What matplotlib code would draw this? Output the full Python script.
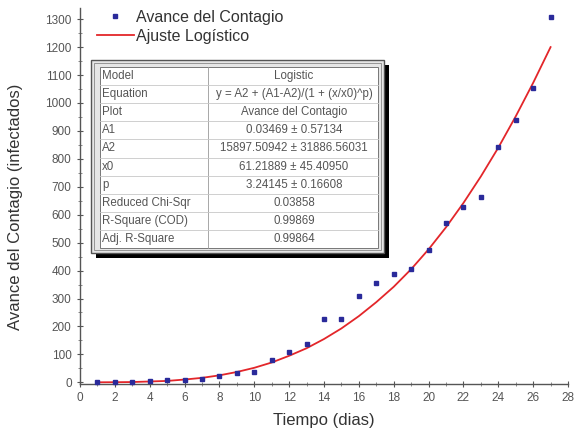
import matplotlib
matplotlib.use("Agg")
import matplotlib.pyplot as plt
from matplotlib.patches import Rectangle
from matplotlib.ticker import MultipleLocator

plt.rcParams['font.family'] = ['Liberation Sans', 'DejaVu Sans']

# Data
days = list(range(1, 28))
cases = [1, 1, 2, 6, 7, 9, 11, 22, 35, 38, 81, 109, 138, 226, 226, 309, 357,
         387, 407, 472, 571, 626, 662, 842, 940, 1053, 1308]
fit_vals = [0.1, 0.4, 1, 3, 5, 10, 16, 25, 37, 52, 71, 95, 122, 155, 193, 237,
            287, 342, 405, 476, 555, 642, 737, 840, 952, 1072, 1200]

table_rows = [
    ("Model", "Logistic"),
    ("Equation", "y = A2 + (A1-A2)/(1 + (x/x0)^p)"),
    ("Plot", "Avance del Contagio"),
    ("A1", "0.03469 \u00b1 0.57134"),
    ("A2", "15897.50942 \u00b1 31886.56031"),
    ("x0", "61.21889 \u00b1 45.40950"),
    ("p", "3.24145 \u00b1 0.16608"),
    ("Reduced Chi-Sqr", "0.03858"),
    ("R-Square (COD)", "0.99869"),
    ("Adj. R-Square", "0.99864"),
]

W, H = 587, 441
fig = plt.figure(figsize=(W / 100, H / 100), dpi=100)

def fx(px):
    return px / W

def fy(py):
    return 1 - py / H

ax = fig.add_axes([fx(80), fy(384), fx(568) - fx(80), fy(8) - fy(384)])
ax.set_xlim(0, 28)
ax.set_ylim(-6, 1340)
for s in ("top", "right"):
    ax.spines[s].set_visible(False)
for s in ("left", "bottom"):
    ax.spines[s].set_color("#555555")
    ax.spines[s].set_linewidth(1.0)

ax.xaxis.set_major_locator(MultipleLocator(2))
ax.xaxis.set_minor_locator(MultipleLocator(1))
ax.yaxis.set_major_locator(MultipleLocator(100))
ax.yaxis.set_minor_locator(MultipleLocator(50))
ax.tick_params(which="major", direction="inout", length=5, width=0.8,
               color="#555555", labelsize=8.5, labelcolor="#555555")
ax.tick_params(which="minor", direction="inout", length=3, width=0.6,
               color="#777777")
ax.set_yticks(range(0, 1301, 100))

ax.plot(days, fit_vals, color="#e3262a", lw=1.3, label="Ajuste Log\u00edstico",
        zorder=2)
ax.plot(days, cases, linestyle="none", marker="s", ms=3.0, color="#2a2a9a",
        label="Avance del Contagio", zorder=3, clip_on=False)

ax.set_xlabel("Tiempo (dias)", fontsize=12, color="#333333", labelpad=6)
ax.set_ylabel("Avance del Contagio (infectados)", fontsize=12,
              color="#333333")
ax.yaxis.set_label_coords(-0.116, 0.47)

h, l = ax.get_legend_handles_labels()
leg = ax.legend([h[1], h[0]], [l[1], l[0]], loc="upper left",
                bbox_to_anchor=(fx(97), fy(10)), bbox_transform=fig.transFigure,
                frameon=False, fontsize=11.5, handlelength=2.3,
                handletextpad=0.15, labelspacing=0.22, borderpad=0,
                borderaxespad=0)
for t in leg.get_texts():
    t.set_color("#333333")

# Fit results table drawn as an inset box
tab = fig.add_axes([0, 0, 1, 1])
tab.set_xlim(0, W)
tab.set_ylim(H, 0)
tab.axis("off")
x0b, y0b, x1b, y1b = 91, 60, 384, 253
tab.add_patch(Rectangle((x0b + 5, y0b + 5), x1b - x0b, y1b - y0b,
                        facecolor="black", edgecolor="none", zorder=1))
tab.add_patch(Rectangle((x0b, y0b), x1b - x0b, y1b - y0b,
                        facecolor="#e6e6e6", edgecolor="#555555", lw=1.0,
                        zorder=2))
tab.add_patch(Rectangle((x0b + 3, y0b + 3), x1b - x0b - 6, y1b - y0b - 6,
                        facecolor="none", edgecolor="#888888", lw=0.6,
                        zorder=2))
tx0, ty0, tx1, ty1 = 100, 67, 378, 248
tab.add_patch(Rectangle((tx0, ty0), tx1 - tx0, ty1 - ty0, facecolor="white",
                        edgecolor="#777777", lw=0.7, zorder=3))
nrow = len(table_rows)
rh = (ty1 - ty0) / nrow
colx = 208
tab.plot([colx, colx], [ty0, ty1], color="#999999", lw=0.6, zorder=4)
for i, (k, v) in enumerate(table_rows):
    yc = ty0 + (i + 0.5) * rh
    if i > 0:
        tab.plot([tx0, tx1], [ty0 + i * rh] * 2, color="#c8c8c8", lw=0.6,
                 zorder=4)
    tab.text(tx0 + 2, yc, k, fontsize=8.3, color="#555555", va="center",
             ha="left", zorder=5)
    tab.text((colx + tx1) / 2 + 1, yc, v, fontsize=8.3, color="#555555",
             va="center", ha="center", zorder=5)

fig.savefig("out.png", dpi=100)
